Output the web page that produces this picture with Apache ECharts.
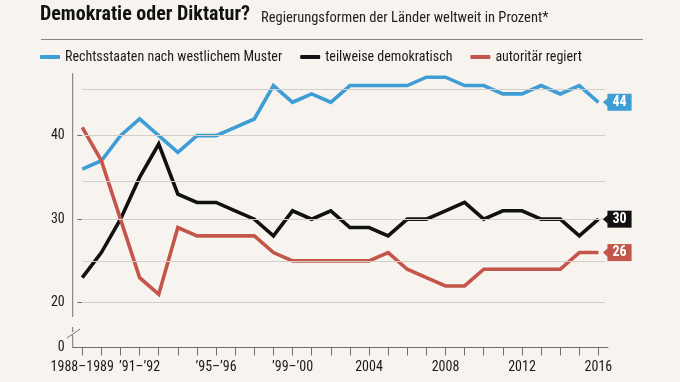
<!DOCTYPE html>
<html><head><meta charset="utf-8">
<script src="https://cdn.jsdelivr.net/npm/echarts@6/dist/echarts.min.js"></script>
<style>html,body{margin:0;padding:0;background:#f7f4ef;}#c{width:680px;height:382px;}</style>
</head><body><div id="c"></div>
<script>
// ---- data ----
const categories = ['1988\u20131989', '\u201989\u2013\u201990', '\u201990\u2013\u201991', '\u201991\u2013\u201992', '\u201992\u2013\u201993',
  '\u201993\u2013\u201994', '\u201994\u2013\u201995', '\u201995\u2013\u201996', '\u201996\u2013\u201997', '\u201997\u2013\u201998', '\u201998\u2013\u201999',
  '\u201999\u2013\u201900', '2001', '2002', '2003', '2004', '2005', '2006', '2007', '2008', '2009', '2010',
  '2011', '2012', '2013', '2014', '2015', '2016'];
const labelIndices = [0, 3, 7, 11, 15, 19, 23, 27];
const rechtsstaaten = [36, 37, 40, 42, 40, 38, 40, 40, 41, 42, 46, 44, 45, 44, 46, 46, 46, 46, 47, 47, 46, 46, 45, 45, 46, 45, 46, 44];
const teilweise     = [23, 26, 30, 35, 39, 33, 32, 32, 31, 30, 28, 31, 30, 31, 29, 29, 28, 30, 30, 31, 32, 30, 31, 31, 30, 30, 28, 30];
const autoritaer    = [41, 37, 30, 23, 21, 29, 28, 28, 28, 28, 26, 25, 25, 25, 25, 25, 26, 24, 23, 22, 22, 24, 24, 24, 24, 24, 26, 26];
const seriesNames = ['Rechtsstaaten nach westlichem Muster', 'teilweise demokratisch', 'autorit\u00e4r regiert'];
const yLabelValues = [20, 30, 40];
const gridValues = [20, 25, 30, 34.6, 40, 45.5];
const title = 'Demokratie oder Diktatur?';
const subtitle = 'Regierungsformen der L\u00e4nder weltweit in Prozent*';

// ---- style ----
const FONT = "'Roboto Condensed', 'DejaVu Sans Condensed', sans-serif";
const colors = ['#3d9dd4', '#111111', '#c4554a'];
const Y_MIN = 14.63, Y_MAX = 47.47;
const axisColor = '#707070';
const textColor = '#1a1a1a';

const chart = echarts.init(document.getElementById('c'), null, { renderer: 'canvas' });

function mkSeries(name, values, color) {
  const last = values.length - 1;
  return {
    name: name,
    type: 'line',
    data: values.map((v, i) => [i, v]),
    showSymbol: false,
    symbol: 'none',
    z: 3,
    lineStyle: { color: color, width: 3.6, join: 'miter' },
    itemStyle: { color: color },
    endLabel: {
      show: true,
      formatter: p => String(p.value[1]),
      distance: 9,
      backgroundColor: color,
      color: '#fff',
      fontWeight: 'bold',
      fontSize: 14,
      fontFamily: FONT,
      padding: [2, 5, 1, 5]
    },
    markPoint: {
      symbol: 'triangle',
      symbolSize: [9, 5],
      symbolRotate: 90,
      symbolOffset: [7, 0],
      silent: true,
      label: { show: false },
      itemStyle: { color: color },
      data: [{ coord: [last, values[last]] }]
    }
  };
}

const gridLineData = gridValues.map(v => [{ coord: [0, v] }, { coord: [27.34, v] }]);

const option = {
  animation: false,
  backgroundColor: '#f7f4ef',
  title: [
    { text: title, left: 40, top: 5, padding: 0,
      textStyle: { fontSize: 20, fontWeight: 'bold', color: '#111', fontFamily: FONT } },
    { text: subtitle, left: 261, top: 11, padding: 0,
      textStyle: { fontSize: 14.5, fontWeight: 'normal', color: '#222', fontFamily: FONT } }
  ],
  legend: {
    data: seriesNames,
    left: 40, top: 50, padding: 0,
    icon: 'roundRect',
    itemWidth: 20, itemHeight: 4, itemGap: 18,
    textStyle: { fontSize: 14, color: textColor, fontFamily: FONT }
  },
  grid: { left: 72.7, right: 72, top: 73.3, bottom: 34.5 },
  xAxis: {
    type: 'value', min: -0.5, max: 27.5,
    axisLine: { show: true, onZero: false, lineStyle: { color: axisColor, width: 1 } },
    axisTick: { show: true, customValues: categories.map((c, i) => i), length: 8, lineStyle: { color: axisColor } },
    axisLabel: { customValues: labelIndices, formatter: v => categories[Math.round(v)], margin: 13,
      showMinLabel: true, showMaxLabel: true, hideOverlap: false,
      fontSize: 14, color: textColor, fontFamily: FONT },
    splitLine: { show: false }
  },
  yAxis: {
    type: 'value', min: Y_MIN, max: Y_MAX,
    axisLine: { show: false },
    axisTick: { show: true, customValues: [Y_MIN].concat(yLabelValues), length: 5, lineStyle: { color: axisColor } },
    axisLabel: { customValues: [Y_MIN].concat(yLabelValues), formatter: v => (v < 20 ? '0' : String(v)), margin: 8,
      showMinLabel: true, hideOverlap: false,
      fontSize: 14, color: textColor, fontFamily: FONT },
    splitLine: { show: false }
  },
  series: [
    { type: 'line', data: [], z: 1, silent: true,
      markLine: { silent: true, symbol: 'none', label: { show: false },
        lineStyle: { color: '#d3cec7', width: 1, type: 'solid' }, data: gridLineData } },
    mkSeries(seriesNames[0], rechtsstaaten, colors[0]),
    mkSeries(seriesNames[1], teilweise, colors[1]),
    mkSeries(seriesNames[2], autoritaer, colors[2])
  ],
  graphic: [
    { type: 'line', shape: { x1: 41, y1: 39.5, x2: 643, y2: 39.5 }, style: { stroke: '#8a8580', lineWidth: 1 } },
    { type: 'line', shape: { x1: 72.7, y1: 73.3, x2: 72.7, y2: 317 }, style: { stroke: axisColor, lineWidth: 1 } },
    { type: 'line', shape: { x1: 72.7, y1: 327, x2: 72.7, y2: 332 }, style: { stroke: axisColor, lineWidth: 1 } },
    { type: 'line', shape: { x1: 67, y1: 338, x2: 80, y2: 329 }, style: { stroke: axisColor, lineWidth: 1 } },
    { type: 'line', shape: { x1: 72.7, y1: 335, x2: 72.7, y2: 347.5 }, style: { stroke: axisColor, lineWidth: 1 } }
  ]
};
chart.setOption(option);
</script>
</body></html>
